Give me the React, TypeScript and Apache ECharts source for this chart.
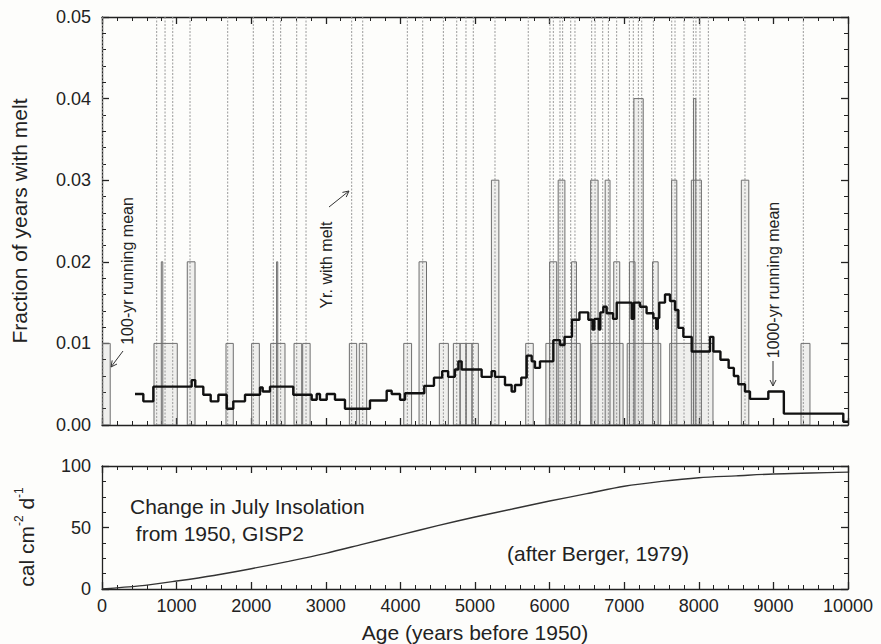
import React, { useEffect, useRef } from 'react';
import * as echarts from 'echarts';

// ---------- data ----------
// individual years with melt (age, years before 1950)
const meltYears = [
  10, 733, 845, 948, 1180, 1685, 2028, 2296, 2395, 2610, 2735, 3347, 3495,
  4093, 4299, 4576, 4755, 4879, 4977, 5268, 5714, 6005, 6050, 6139, 6175,
  6283, 6340, 6564, 6609, 6712, 6788, 6899, 7069, 7122, 7190, 7235, 7391,
  7637, 7681, 7802, 7927, 7962, 8016, 8128, 8619, 9401,
];

// 100-yr running mean boxes: [startAge, endAge, fraction]
const bars100: number[][] = [
  [0, 110, 0.01],
  [697, 1009, 0.01], [795, 815, 0.02],
  [1143, 1247, 0.02],
  [1662, 1760, 0.01],
  [2006, 2109, 0.01],
  [2261, 2453, 0.01], [2340, 2356, 0.02],
  [2574, 2677, 0.01], [2690, 2790, 0.01],
  [3316, 3414, 0.01], [3449, 3548, 0.01],
  [4045, 4150, 0.01],
  [4250, 4350, 0.02],
  [4522, 4643, 0.01],
  [4710, 4800, 0.01], [4800, 4880, 0.01], [4880, 4960, 0.01], [4960, 5045, 0.01],
  [5220, 5320, 0.03],
  [5680, 5781, 0.01],
  [5950, 6410, 0.01], [6000, 6095, 0.02], [6115, 6205, 0.03], [6295, 6360, 0.02],
  [6565, 6985, 0.01], [6550, 6650, 0.03], [6745, 6810, 0.03], [6860, 6940, 0.02],
  [7040, 7490, 0.01], [7070, 7145, 0.02], [7130, 7255, 0.04], [7380, 7455, 0.02],
  [7610, 8190, 0.01], [7635, 7705, 0.03], [7900, 8035, 0.03], [7930, 7960, 0.04],
  [8570, 8670, 0.03],
  [9370, 9490, 0.01],
];

// 1000-yr running mean (step starts)
const mean1000Ages = [
  442, 554, 688, 1202, 1250, 1358, 1457, 1560, 1672, 1760, 1917, 2118, 2154,
  2252, 2564, 2811, 2878, 2922, 3012, 3123, 3257, 3592, 3816, 3883, 3995,
  4062, 4320, 4450, 4560, 4640, 4730, 4777, 4821, 5089, 5223, 5268, 5402,
  5491, 5536, 5620, 5693, 5760, 5804, 5871, 6050, 6140, 6200, 6300, 6400,
  6519, 6575, 6600, 6660, 6680, 6720, 6765, 6850, 6900, 7100, 7130, 7212,
  7300, 7391, 7430, 7450, 7470, 7547, 7614, 7681, 7726, 7793, 7905, 8150,
  8195, 8290, 8400, 8470, 8530, 8619, 8686, 8932, 9140, 9937, 10000,
];
const mean1000Values = [
  0.0038, 0.0029, 0.0047, 0.0055, 0.0047, 0.0037, 0.0029, 0.0037, 0.0020,
  0.0029, 0.0037, 0.0046, 0.0041, 0.0047, 0.0037, 0.0031, 0.0038, 0.0031,
  0.0038, 0.0031, 0.0020, 0.0030, 0.0042, 0.0038, 0.0031, 0.0039, 0.0048,
  0.0058, 0.0066, 0.0059, 0.0068, 0.0078, 0.0068, 0.0059, 0.0066, 0.0059,
  0.0049, 0.0041, 0.0049, 0.0058, 0.0085, 0.0078, 0.0070, 0.0078, 0.0104,
  0.0098, 0.0108, 0.0129, 0.0138, 0.0129, 0.0117, 0.0130, 0.0117, 0.0138,
  0.0145, 0.0137, 0.0130, 0.0150, 0.0130, 0.0150, 0.0145, 0.0137, 0.0131,
  0.0118, 0.0131, 0.0150, 0.0160, 0.0152, 0.0141, 0.0119, 0.0108, 0.0090,
  0.0108, 0.0090, 0.0080, 0.0070, 0.0060, 0.0050, 0.0041, 0.0032, 0.0041,
  0.0014, 0.0004, 0.0004,
];

// change in July insolation (cal cm-2 d-1)
const insolAges = [0, 500, 1000, 1500, 2000, 2500, 3000, 3500, 4000, 4500, 5000,
  5500, 6000, 6500, 7000, 7500, 8000, 8500, 9000, 9500, 10000];
const insolValues = [0, 2.5, 6.5, 11, 16.5, 22.5, 29, 36.5, 44, 51.5, 58.5,
  65, 71.5, 77.5, 83.5, 87.5, 90.5, 92, 93.5, 94.3, 95];

// ---------- styling ----------
const FONT = '"Liberation Sans", Arial, Helvetica, sans-serif';
const INK = '#222';
const lineStyle = { color: INK, width: 1.3 };

function xAx(gridIndex: number, position: string, showLabel: boolean, name?: string) {
  return {
    type: 'value', gridIndex, position, min: 0, max: 10000, interval: 1000,
    axisLine: { show: true, onZero: false, lineStyle },
    axisTick: { show: true, inside: true, length: 7, lineStyle },
    minorTick: { show: true, splitNumber: 5, length: 4, lineStyle: { color: INK, width: 1 } },
    splitLine: { show: false },
    axisLabel: { show: showLabel, fontFamily: FONT, fontSize: 18, color: INK, margin: 8,
      formatter: (v: number) => String(v) },
    name, nameLocation: 'middle', nameGap: 33,
    nameTextStyle: { fontFamily: FONT, fontSize: 21, color: INK },
  };
}
function yAx(gridIndex: number, position: string, showLabel: boolean, min: number, max: number,
  interval: number, split: number, fmt: (v: number) => string, name?: string) {
  return {
    type: 'value', gridIndex, position, min, max, interval,
    axisLine: { show: true, onZero: false, lineStyle },
    axisTick: { show: true, inside: true, length: 7, lineStyle },
    minorTick: { show: true, splitNumber: split, length: 4, lineStyle: { color: INK, width: 1 } },
    splitLine: { show: false },
    axisLabel: { show: showLabel, fontFamily: FONT, fontSize: 18, color: INK, margin: 11, formatter: fmt },
    name, nameLocation: 'middle', nameGap: 72,
    nameTextStyle: { fontFamily: FONT, fontSize: 21, color: INK },
  };
}

function arrow(x1: number, y1: number, x2: number, y2: number) {
  const dx = x2 - x1, dy = y2 - y1, L = Math.hypot(dx, dy);
  const ux = dx / L, uy = dy / L, h = 6, w = 3;
  const bx = x2 - ux * h, by = y2 - uy * h;
  return [
    { type: 'line', shape: { x1, y1, x2, y2 }, style: { stroke: '#333', lineWidth: 1 } },
    { type: 'polyline', shape: { points: [[bx - uy * w, by + ux * w], [x2, y2], [bx + uy * w, by - ux * w]] },
      style: { stroke: '#333', lineWidth: 1, fill: null } },
  ];
}

function vText(text: string, x: number, y: number, size: number) {
  return {
    type: 'text', x, y, rotation: Math.PI / 2,
    style: { text, fontFamily: FONT, fontSize: size, fill: INK,
      align: 'center', verticalAlign: 'middle', textAlign: 'center', textVerticalAlign: 'middle' },
  };
}
function hText(text: string, x: number, y: number, size: number) {
  return {
    type: 'text', x, y,
    style: { text, fontFamily: FONT, fontSize: size, fill: INK,
      align: 'left', verticalAlign: 'middle', textAlign: 'left', textVerticalAlign: 'middle' },
  };
}

export default function App() {
  const ref = useRef<HTMLDivElement>(null);
  useEffect(() => {
    document.body.style.margin = '0';
    const chart = echarts.init(ref.current!, undefined, { renderer: 'svg' });
    const option: any = {
      animation: false,
      backgroundColor: '#fdfdfb',
      grid: [
        { left: 102, right: 33, top: 17, height: 408 },
        { left: 102, right: 33, top: 466, height: 124 },
      ],
      xAxis: [
        xAx(0, 'bottom', false),
        xAx(0, 'top', false),
        xAx(1, 'bottom', true, 'Age (years before 1950)'),
        xAx(1, 'top', false),
      ],
      yAxis: [
        yAx(0, 'left', true, 0, 0.05, 0.01, 5, (v: number) => v.toFixed(2), 'Fraction of years with melt'),
        yAx(0, 'right', false, 0, 0.05, 0.01, 5, (v: number) => v.toFixed(2)),
        yAx(1, 'left', true, 0, 100, 50, 4, (v: number) => String(v)),
        yAx(1, 'right', false, 0, 100, 50, 4, (v: number) => String(v)),
      ],
      series: [
        {
          type: 'custom', xAxisIndex: 0, yAxisIndex: 0, clip: true, silent: true, z: 1,
          data: meltYears.map((a) => [a, 1]),
          encode: { x: 0, y: 1 },
          renderItem: (_p: any, api: any) => {
            const b = api.coord([api.value(0), 0]);
            const t = api.coord([api.value(0), api.value(1)]);
            return { type: 'line', shape: { x1: b[0], y1: b[1], x2: t[0], y2: t[1] },
              style: { stroke: '#9a9a9a', lineWidth: 1, lineDash: [2, 1.5] } };
          },
        },
        {
          type: 'custom', xAxisIndex: 0, yAxisIndex: 0, clip: true, silent: true, z: 2,
          data: bars100,
          encode: { x: [0, 1], y: 2 },
          renderItem: (_p: any, api: any) => {
            const s = api.coord([api.value(0), 0]);
            const e = api.coord([api.value(1), api.value(2)]);
            return { type: 'rect', shape: { x: s[0], y: e[1], width: e[0] - s[0], height: s[1] - e[1] },
              style: { fill: 'rgba(150,150,150,0.13)', stroke: '#6e6e6e', lineWidth: 1 } };
          },
        },
        {
          type: 'line', xAxisIndex: 0, yAxisIndex: 0, step: 'end', showSymbol: false, z: 3,
          data: mean1000Ages.map((a, i) => [a, mean1000Values[i]]),
          lineStyle: { color: '#111', width: 2.4 },
        },
        {
          type: 'line', xAxisIndex: 2, yAxisIndex: 2, smooth: 0.3, showSymbol: false,
          data: insolAges.map((a, i) => [a, insolValues[i]]),
          lineStyle: { color: '#333', width: 1.4 },
        },
      ],
      graphic: [
        vText('100-yr running mean', 127, 271, 16),
        ...arrow(123, 351, 111, 367),
        vText('Yr. with melt', 326, 265, 16),
        ...arrow(329, 207, 349, 191),
        vText('1000-yr running mean', 773, 280, 16),
        ...arrow(773, 361, 773, 386),
        hText('Change in July Insolation', 130, 506, 21),
        hText(' from 1950, GISP2', 130, 533, 21),
        hText('(after Berger, 1979)', 507, 553, 21),
        {
          type: 'text', x: 26, y: 537, rotation: Math.PI / 2,
          style: {
            text: 'cal cm{sup|-2} d{sup|-1}', fontFamily: FONT, fontSize: 21, fill: INK,
            align: 'center', verticalAlign: 'middle', textAlign: 'center', textVerticalAlign: 'middle',
            rich: { sup: { fontFamily: FONT, fontSize: 12, fill: INK, verticalAlign: 'top', lineHeight: 26 } },
          },
        },
      ],
    };
    chart.setOption(option);
    return () => chart.dispose();
  }, []);
  return <div ref={ref} style={{ width: 881, height: 644 }} />;
}
